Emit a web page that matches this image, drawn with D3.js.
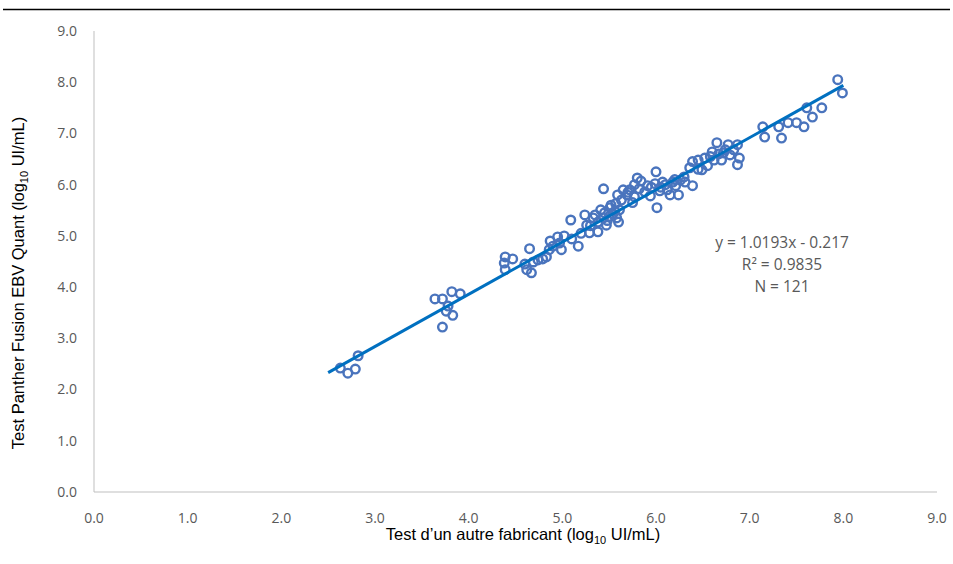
<!DOCTYPE html>
<html lang="fr">
<head>
  <meta charset="UTF-8" />
  <title>Panther Fusion EBV Quant</title>
  <script src="https://d3js.org/d3.v7.min.js"></script>
  <style>
    body { margin: 0; background: #fff; overflow: hidden; }
    svg { display: block; }
    .tick-label { font-family: "Open Sans", sans-serif; font-size: 14px; fill: #595959; }
    .axis-title { font-family: "Liberation Sans", Arial, sans-serif; font-size: 16.5px; fill: #000; }
    .note { font-family: "Open Sans", sans-serif; font-size: 15.5px; fill: #595959; }
  </style>
</head>
<body>
<svg width="953" height="564"></svg>
<script>
  // valeurs (log10 UI/mL)
  const autreTest = [
    2.63, 2.71, 2.79, 2.82,
    3.64, 3.72, 3.82, 3.91, 3.78, 3.76, 3.83, 3.72,
    4.39, 4.47, 4.38, 4.39,
    4.65, 4.60, 4.69, 4.62, 4.67, 4.74, 4.79, 4.83,
    4.87, 4.90, 4.95, 4.97, 4.99, 4.86, 5.09, 5.10, 5.17,
    5.24, 5.29, 5.26, 5.35, 5.38, 5.38, 5.41, 5.44, 5.47, 5.44, 5.51, 5.54, 5.57, 5.60, 5.61,
    5.59, 5.65, 5.69, 5.72, 5.77, 5.77, 5.80, 5.84, 5.88, 5.91, 5.94, 5.99, 6.00, 6.01, 6.04,
    6.07, 6.12, 6.15, 6.18, 6.21, 6.24, 6.26, 6.31,
    6.36, 6.39, 6.39, 6.45, 6.49, 6.52, 6.55, 6.60, 6.62, 6.65, 6.67, 6.70, 6.74, 6.77, 6.79,
    6.83, 6.87, 6.87, 6.89,
    7.14, 7.16, 7.31, 7.34, 7.41, 7.50, 7.58, 7.61, 7.67, 7.77, 7.94, 7.99,
    5.02, 5.30, 5.33, 5.45, 5.50, 5.52, 5.56, 5.48, 5.20, 5.58,
    5.70, 5.82, 5.95, 6.05, 6.10, 6.20, 5.63, 5.75,
    6.45, 6.58, 6.72, 6.30
  ];
  const pantherFusion = [
    2.42, 2.32, 2.40, 2.66,
    3.77, 3.77, 3.91, 3.87, 3.63, 3.53, 3.45, 3.22,
    4.59, 4.55, 4.47, 4.34,
    4.75, 4.45, 4.49, 4.34, 4.28, 4.53, 4.55, 4.59,
    4.90, 4.80, 4.98, 4.86, 4.73, 4.73, 5.31, 4.94, 4.80,
    5.41, 5.06, 5.21, 5.41, 5.27, 5.08, 5.51, 5.35, 5.21, 5.92, 5.55, 5.43, 5.63, 5.27, 5.51,
    5.80, 5.90, 5.80, 5.90, 5.76, 6.00, 6.13, 6.07, 5.86, 5.98, 5.78, 6.02, 6.25, 5.55, 5.88,
    6.05, 5.90, 5.80, 6.05, 5.98, 5.80, 6.09, 6.05,
    6.33, 5.98, 6.45, 6.48, 6.29, 6.52, 6.37, 6.64, 6.48, 6.82, 6.60, 6.48, 6.68, 6.78, 6.58,
    6.68, 6.78, 6.39, 6.52,
    7.13, 6.93, 7.13, 6.91, 7.21, 7.21, 7.13, 7.50, 7.32, 7.50, 8.05, 7.79,
    5.00, 5.20, 5.35, 5.45, 5.38, 5.60, 5.48, 5.30, 5.05, 5.35,
    5.85, 5.92, 5.95, 5.95, 6.00, 6.10, 5.70, 5.65,
    6.30, 6.55, 6.62, 6.15
  ];
  const ticks = [0, 1, 2, 3, 4, 5, 6, 7, 8, 9];
  const pente = 1.0193, ordonnee = -0.217;
  const droiteX = [2.5, 8.0];
  const annotation = ["y = 1.0193x - 0.217", "R² = 0.9835", "N = 121"];

  const svg = d3.select("svg");
  const x = d3.scaleLinear().domain([0, 9]).range([94, 937]);
  const y = d3.scaleLinear().domain([0, 9]).range([492, 31]);

  // filet noir en haut
  svg.append("line")
    .attr("x1", 3).attr("x2", 950).attr("y1", 9.5).attr("y2", 9.5)
    .attr("stroke", "#000").attr("stroke-width", 1.3);

  // axes
  svg.append("line")
    .attr("x1", x(0)).attr("x2", x(0)).attr("y1", y(9)).attr("y2", y(0))
    .attr("stroke", "#bfbfbf");
  svg.append("line")
    .attr("x1", x(0)).attr("x2", x(9)).attr("y1", y(0)).attr("y2", y(0))
    .attr("stroke", "#bfbfbf");

  svg.append("g").selectAll("text").data(ticks).join("text")
    .attr("class", "tick-label")
    .attr("x", 77).attr("y", d => y(d)).attr("dy", "0.35em")
    .attr("text-anchor", "end")
    .text(d => d.toFixed(1));

  svg.append("g").selectAll("text").data(ticks).join("text")
    .attr("class", "tick-label")
    .attr("x", d => x(d)).attr("y", 518).attr("dy", "0.35em")
    .attr("text-anchor", "middle")
    .text(d => d.toFixed(1));

  // points
  const pts = autreTest.map((v, i) => [v, pantherFusion[i]]);
  svg.append("g").selectAll("circle").data(pts).join("circle")
    .attr("cx", d => x(d[0])).attr("cy", d => y(d[1]))
    .attr("r", 4.3)
    .attr("fill", "none")
    .attr("stroke", "#4a74bd")
    .attr("stroke-width", 2.4);

  // droite de régression
  svg.append("line")
    .attr("x1", x(droiteX[0])).attr("y1", y(pente * droiteX[0] + ordonnee))
    .attr("x2", x(droiteX[1])).attr("y2", y(pente * droiteX[1] + ordonnee))
    .attr("stroke", "#0070c0").attr("stroke-width", 3);

  // équation
  svg.append("g").selectAll("text").data(annotation).join("text")
    .attr("class", "note")
    .attr("x", 782).attr("y", (d, i) => 243 + i * 22).attr("dy", "0.35em")
    .attr("text-anchor", "middle")
    .text(d => d);

  // titres des axes
  const xt = svg.append("text").attr("class", "axis-title")
    .attr("x", 523).attr("y", 540).attr("text-anchor", "middle");
  xt.append("tspan").text("Test d’un autre fabricant (log");
  xt.append("tspan").attr("font-size", "11px").attr("dy", 4).text("10");
  xt.append("tspan").attr("dy", -4).text(" UI/mL)");

  const yt = svg.append("text").attr("class", "axis-title")
    .attr("transform", "translate(24,283) rotate(-90)")
    .attr("text-anchor", "middle");
  yt.append("tspan").text("Test Panther Fusion EBV Quant (log");
  yt.append("tspan").attr("font-size", "11px").attr("dy", 4).text("10");
  yt.append("tspan").attr("dy", -4).text(" UI/mL)");
</script>
</body>
</html>
